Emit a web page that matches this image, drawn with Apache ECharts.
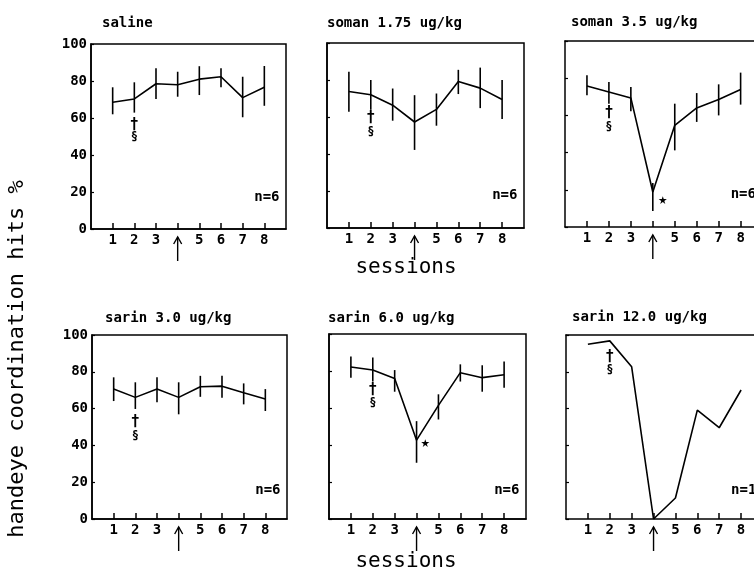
<!DOCTYPE html>
<html>
<head>
<meta charset="utf-8">
<script src="https://cdn.jsdelivr.net/npm/echarts@6/dist/echarts.min.js"></script>
<style>
    html, body { margin: 0; padding: 0; background: #fff; }
    #chart { width: 754px; height: 569px; }
</style>
</head>
<body>
<div id="chart"></div>
<script>
    // sessions (4 = exposure day, shown with an arrow)
    var sessions = [1, 2, 3, 4, 5, 6, 7, 8];
    var tickLabels = [1, 2, 3, 5, 6, 7, 8];
    var yTicks = [0, 20, 40, 60, 80, 100];

    // 面板标题
    var titles = ['saline', 'soman 1.75 ug/kg', 'soman 3.5 ug/kg',
                  'sarin 3.0 ug/kg', 'sarin 6.0 ug/kg', 'sarin 12.0 ug/kg'];
    var groupN = ['n=6', 'n=6', 'n=6', 'n=6', 'n=6', 'n=1'];

    // mean hits % and error bar ends
    var salineMean = [68.5, 70.3, 78.5, 78, 81, 82.3, 71, 76.6];
    var salineLow = [62, 62.9, 70.3, 71.5, 72.4, 76.6, 60.4, 66.6];
    var salineHigh = [76.6, 79.3, 86.9, 85, 88, 86.9, 82.3, 88.1];

    var soman175Mean = [73.8, 72, 66.4, 57.3, 64.1, 79.2, 75.6, 69.5];
    var soman175Low = [62.8, 63.9, 58, 42.2, 55.3, 72.4, 64.8, 58.9];
    var soman175High = [84.5, 80, 75.4, 71.8, 72.7, 85.5, 86.7, 80];

    var soman35Mean = [75.8, 72.6, 69.4, 18.8, 54.7, 64, 68.5, 73.9];
    var soman35Low = [70.8, 66.3, 62.2, 8.6, 41.2, 56.5, 60, 65.8];
    var soman35High = [81.6, 78, 75.3, 23.7, 66.3, 72, 76.7, 83];

    var sarin30Mean = [70.6, 66.1, 70.6, 66.1, 71.9, 72.2, 68.6, 65.2];
    var sarin30Low = [64.1, 59.8, 63.4, 56.9, 66.4, 65.9, 62.3, 58.7];
    var sarin30High = [77, 74.3, 77, 74.3, 77.8, 77.8, 73.7, 70.6];

    var sarin60Mean = [82.2, 80.5, 75.9, 42.6, 61.4, 79.1, 76.4, 78];
    var sarin60Low = [76.4, 74.3, 68.8, 30.4, 53.8, 74.3, 68.8, 71];
    var sarin60High = [87.8, 87.3, 80.5, 52.9, 67.4, 83.6, 83.1, 85.1];

    var sarin120Mean = [95, 96.8, 82.7, 0, 11.4, 59.2, 49.6, 70.1];

    // significance marks at session 2: [dagger, section]
    var daggerY = [56.2, 59.5, 61, 52.6, 69.7, 87.8];
    var sectionY = [49.6, 52, 53.8, 45.3, 62.9, 81.3];
    // star next to session 4 (panel index, x, y)
    var starPanels = [2, 4];
    var starX = [4.45, 4.4];
    var starY = [14.7, 41];
    var nLabelY = [17.3, 17.4, 17.4, 15.3, 15.5, 15.3];

    var means = [salineMean, soman175Mean, soman35Mean, sarin30Mean, sarin60Mean, sarin120Mean];
    var lows = [salineLow, soman175Low, soman35Low, sarin30Low, sarin60Low, null];
    var highs = [salineHigh, soman175High, soman35High, sarin30High, sarin60High, null];

    // 布局 (right column is cut off at the edge of the picture: no right border, shorter x range)
    var grids = [
        {left: 91, top: 44, width: 195, height: 185, xMax: 9, cut: false},
        {left: 327, top: 43, width: 197, height: 185, xMax: 9, cut: false},
        {left: 565, top: 41, width: 189, height: 186, xMax: 8.61, cut: true},
        {left: 92, top: 335, width: 195, height: 184, xMax: 9, cut: false},
        {left: 329, top: 334, width: 197, height: 185, xMax: 9, cut: false},
        {left: 566, top: 335, width: 188, height: 184, xMax: 8.59, cut: true}
    ];
    var titlePos = [[97, 11], [322, 11], [566, 10], [100, 306], [323, 306], [567, 305]];

    var MONO = 'DejaVu Sans Mono';

    var option = {
        backgroundColor: '#fff',
        animation: false,
        title: [],
        grid: [],
        xAxis: [],
        yAxis: [],
        series: []
    };

    for (var i = 0; i < 6; i++) {
        option.title.push({
            text: titles[i],
            left: titlePos[i][0],
            top: titlePos[i][1],
            textStyle: {fontFamily: MONO, fontSize: 14, fontWeight: 'bold', color: '#000'}
        });
        option.grid.push({
            left: grids[i].left, top: grids[i].top,
            width: grids[i].width, height: grids[i].height,
            show: !grids[i].cut, borderColor: '#000', borderWidth: 1.5,
            backgroundColor: 'transparent', containLabel: false
        });
        option.xAxis.push({
            type: 'value', gridIndex: i, min: 0, max: grids[i].xMax,
            axisLine: {show: true, lineStyle: {color: '#000', width: 1.5}},
            axisTick: {show: true, inside: true, length: 6, customValues: sessions,
                       lineStyle: {color: '#000', width: 1.5}},
            axisLabel: {show: true, customValues: tickLabels, margin: 4, color: '#000',
                        fontFamily: MONO, fontSize: 14, fontWeight: 'bold'},
            splitLine: {show: false}
        });
        var leftCol = (i === 0 || i === 3);
        option.yAxis.push({
            type: 'value', gridIndex: i, min: 0, max: 100, interval: 20,
            axisLine: {show: true, lineStyle: {color: '#000', width: 1.5}},
            axisTick: {show: true, inside: true, length: 3, lineStyle: {color: '#000', width: 1.2}},
            axisLabel: {show: leftCol, margin: 4, color: '#000',
                        fontFamily: MONO, fontSize: 14, fontWeight: 'bold'},
            splitLine: {show: false}
        });

        option.series.push({
            type: 'line', xAxisIndex: i, yAxisIndex: i,
            data: sessions.map(function (s, k) { return [s, means[i][k]]; }),
            showSymbol: false, symbol: 'none',
            lineStyle: {color: '#000', width: 1.6},
            z: 3
        });

        if (lows[i]) {
            option.series.push({
                type: 'custom', xAxisIndex: i, yAxisIndex: i,
                data: sessions.map(function (s, k) { return [s, lows[i][k], highs[i][k]]; }),
                renderItem: function (params, api) {
                    var p1 = api.coord([api.value(0), api.value(1)]);
                    var p2 = api.coord([api.value(0), api.value(2)]);
                    return {
                        type: 'line',
                        shape: {x1: p1[0], y1: p1[1], x2: p2[0], y2: p2[1]},
                        style: {stroke: '#000', lineWidth: 1.6}
                    };
                },
                z: 4
            });
        }

        // text notes: dagger, section, n=, star
        var notes = [
            {x: 2, y: daggerY[i], text: '†', align: 'center', size: 15},
            {x: 2, y: sectionY[i], text: '§', align: 'center', size: 12},
            {x: 8.7, y: nLabelY[i], text: groupN[i], align: 'right', size: 14}
        ];
        var si = starPanels.indexOf(i);
        if (si >= 0) {
            notes.push({x: starX[si], y: starY[si], text: '★', align: 'center', size: 15});
        }
        (function (notes) {
            option.series.push({
                type: 'custom', xAxisIndex: i, yAxisIndex: i, clip: false,
                data: notes.map(function (n) { return [n.x, n.y]; }),
                renderItem: function (params, api) {
                    var n = notes[params.dataIndex];
                    var p = api.coord([api.value(0), api.value(1)]);
                    return {
                        type: 'text', x: p[0], y: p[1],
                        style: {
                            text: n.text, fill: '#000',
                            font: 'bold ' + n.size + 'px "' + MONO + '"',
                            align: n.align, verticalAlign: 'middle'
                        }
                    };
                },
                z: 5
            });
        })(notes);
    }

    // top frame line for the cut-off panels (they have no grid border)
    for (var c = 0; c < 6; c++) {
        if (!grids[c].cut) continue;
        option.xAxis.push({
            type: 'value', gridIndex: c, position: 'top', min: 0, max: grids[c].xMax,
            axisLine: {show: true, onZero: false, lineStyle: {color: '#000', width: 1.5}},
            axisTick: {show: false}, axisLabel: {show: false}, splitLine: {show: false}
        });
    }

    var myChart = echarts.init(document.getElementById('chart'), null, {renderer: 'canvas'});
    myChart.setOption(option);

    // 箭头 under session 4 and axis captions
    var graphics = [];
    for (var g = 0; g < 6; g++) {
        var pt = myChart.convertToPixel({xAxisIndex: g, yAxisIndex: g}, [4, 0]);
        var x = pt[0], y = pt[1];
        graphics.push({
            type: 'polyline',
            shape: {points: [[x, y + 32], [x, y + 8]]},
            style: {stroke: '#000', lineWidth: 1.4, fill: null}
        });
        graphics.push({
            type: 'polyline',
            shape: {points: [[x - 4, y + 15], [x, y + 8], [x + 4, y + 15]]},
            style: {stroke: '#000', lineWidth: 1.4, fill: null}
        });
    }
    graphics.push({
        type: 'text', x: 406, y: 268,
        style: {text: 'sessions', font: '21px "' + MONO + '"', fill: '#000', align: 'center', verticalAlign: 'middle'}
    });
    graphics.push({
        type: 'text', x: 406, y: 562,
        style: {text: 'sessions', font: '21px "' + MONO + '"', fill: '#000', align: 'center', verticalAlign: 'middle'}
    });
    graphics.push({
        type: 'text', x: 17, y: 359, rotation: Math.PI / 2,
        style: {text: 'handeye coordination hits %', font: '22px "' + MONO + '"', fill: '#000',
                align: 'center', verticalAlign: 'middle'}
    });
    myChart.setOption({graphic: graphics});
</script>
</body>
</html>
